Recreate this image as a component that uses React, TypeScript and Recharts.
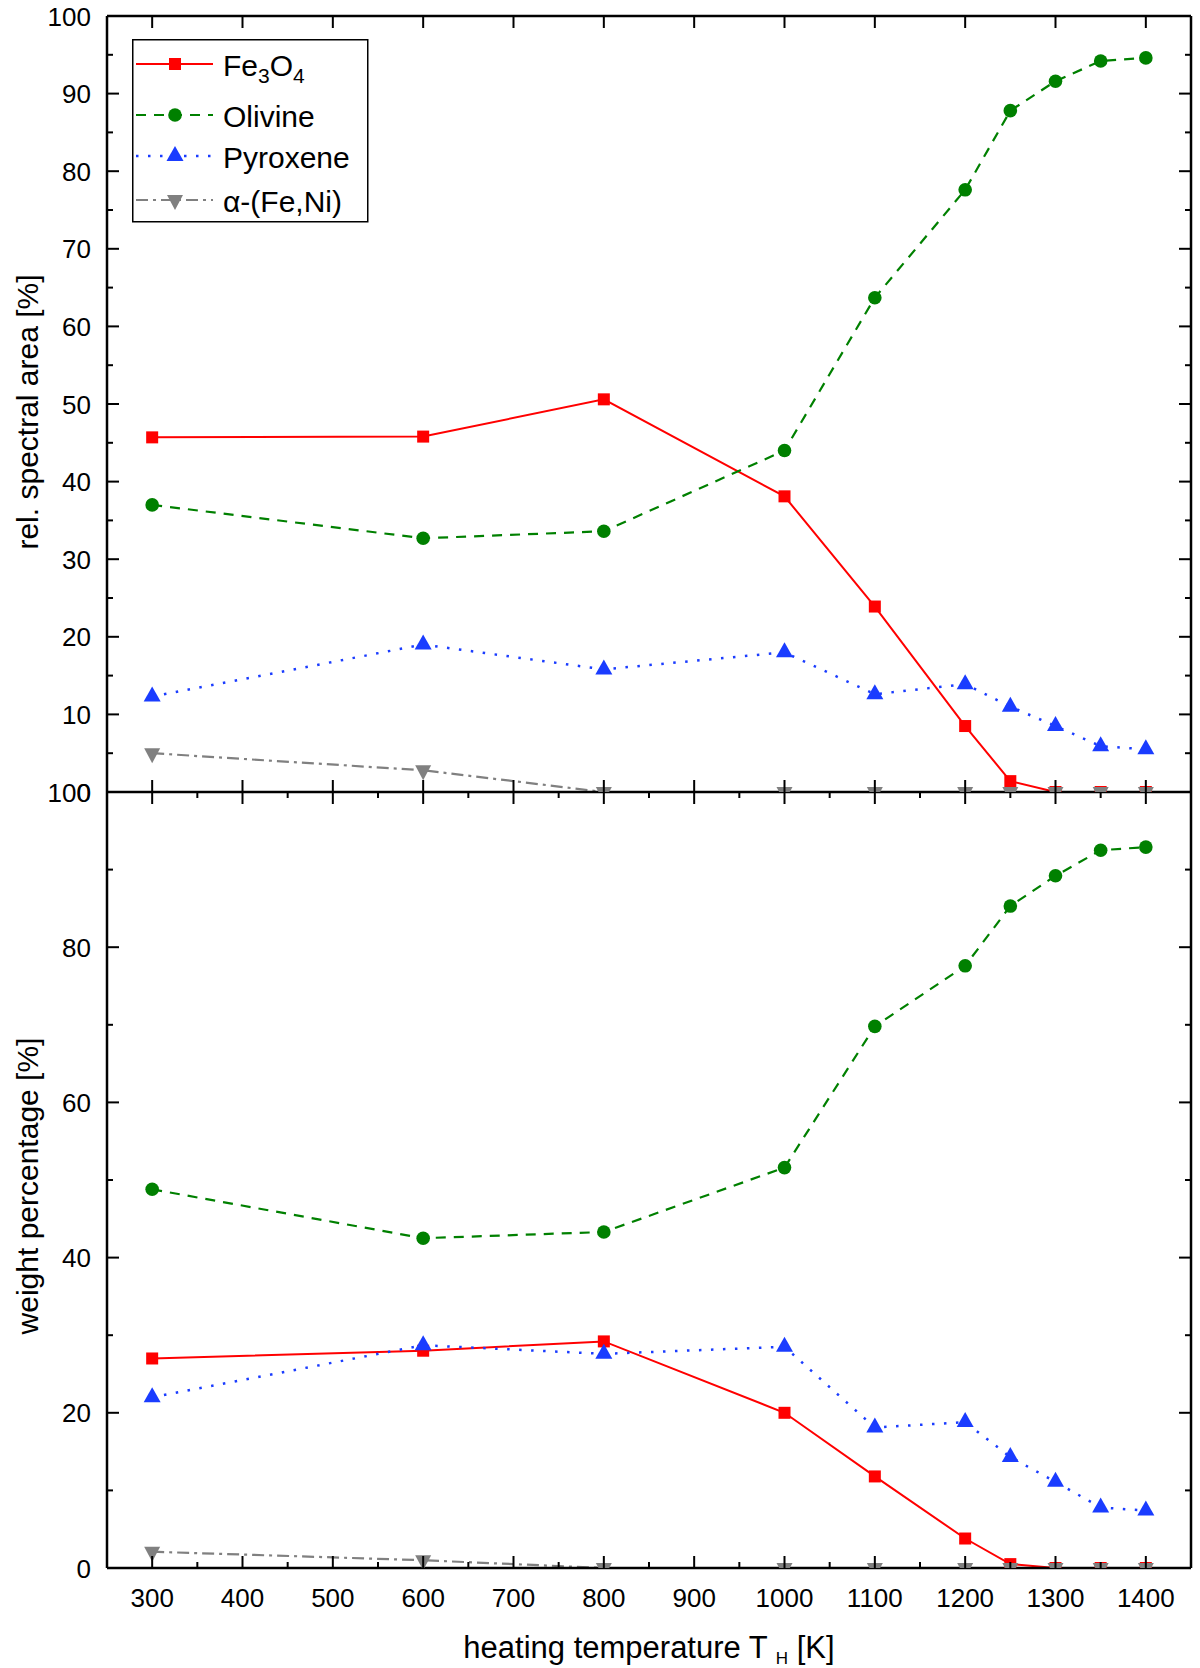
import React from 'react';
import { LineChart, Line, XAxis, YAxis, Legend } from 'recharts';

// ---------- data ----------
const temperatures = [300, 600, 800, 1000, 1100, 1200, 1250, 1300, 1350, 1400];

const areaFe3O4 = [45.7, 45.8, 50.6, 38.1, 23.9, 8.5, 1.4, 0, 0, 0];
const areaOlivine = [37.0, 32.7, 33.6, 44.0, 63.7, 77.6, 87.8, 91.6, 94.2, 94.6];
const areaPyroxene = [12.3, 19.0, 15.8, 18.0, 12.6, 13.9, 11.0, 8.5, 5.9, 5.5];
const areaFeNi = [5.0, 2.8, 0, 0, 0, 0, 0, 0, 0, 0];

const weightFe3O4 = [27.0, 28.0, 29.2, 20.0, 11.8, 3.8, 0.5, 0, 0, 0];
const weightOlivine = [48.8, 42.5, 43.3, 51.6, 69.8, 77.6, 85.3, 89.2, 92.5, 92.9];
const weightPyroxene = [22.0, 28.7, 27.6, 28.5, 18.1, 18.8, 14.3, 11.1, 7.8, 7.4];
const weightFeNi = [2.1, 1.0, 0, 0, 0, 0, 0, 0, 0, 0];

const xDomain = [250, 1450];
const xTickValues = [300, 350, 400, 450, 500, 550, 600, 650, 700, 750, 800, 850, 900, 950, 1000, 1050, 1100, 1150, 1200, 1250, 1300, 1350, 1400];
const xMajorValues = [300, 400, 500, 600, 700, 800, 900, 1000, 1100, 1200, 1300, 1400];

const areaTickValues = [0, 5, 10, 15, 20, 25, 30, 35, 40, 45, 50, 55, 60, 65, 70, 75, 80, 85, 90, 95, 100];
const areaMajorValues = [0, 10, 20, 30, 40, 50, 60, 70, 80, 90, 100];
const weightTickValues = [0, 10, 20, 30, 40, 50, 60, 70, 80, 90, 100];
const weightMajorValues = [0, 20, 40, 60, 80, 100];

const seriesKeys = ['fe3o4', 'olivine', 'pyroxene', 'feni'];
const seriesNames = ['Fe3O4', 'Olivine', 'Pyroxene', 'α-(Fe,Ni)'];
const seriesColors = ['#ff0000', '#008000', '#1a3cff', '#808080'];
const seriesDashes = [undefined, '10 8', '2.5 9.5', '12 5 3 5'];
const seriesWidths = [2, 2.2, 2.5, 2.2];
const seriesShapes = ['square', 'circle', 'triUp', 'triDown'];

const xTitle = 'heating temperature T';
const xTitleSub = 'H';
const xTitleUnit = '[K]';
const topTitle = 'rel. spectral area [%]';
const bottomTitle = 'weight percentage [%]';

const areaData = temperatures.map((t, i) => ({
  t,
  fe3o4: areaFe3O4[i],
  olivine: areaOlivine[i],
  pyroxene: areaPyroxene[i],
  feni: areaFeNi[i],
}));
const weightData = temperatures.map((t, i) => ({
  t,
  fe3o4: weightFe3O4[i],
  olivine: weightOlivine[i],
  pyroxene: weightPyroxene[i],
  feni: weightFeNi[i],
}));

// ---------- styling ----------
const FONT = '"Liberation Sans", Arial, Helvetica, sans-serif';
const AXIS_W = 2.5;
const TICK_W = 2;
const MAJOR_LEN = 12;
const MINOR_LEN = 6;
const TICK_FONT = 26;

function Marker({ shape, cx, cy, color }: any) {
  if (cx == null || cy == null || isNaN(cx) || isNaN(cy)) return null;
  if (shape === 'square') {
    return <rect x={cx - 6} y={cy - 6} width={12} height={12} fill={color} />;
  }
  if (shape === 'circle') {
    return <circle cx={cx} cy={cy} r={6.8} fill={color} />;
  }
  if (shape === 'triUp') {
    return <polygon points={`${cx},${cy - 10} ${cx - 8.5},${cy + 5} ${cx + 8.5},${cy + 5}`} fill={color} />;
  }
  return <polygon points={`${cx},${cy + 10} ${cx - 8},${cy - 5} ${cx + 8},${cy - 5}`} fill={color} />;
}

function makeDot(shape: string, color: string) {
  return (props: any) => (
    <Marker key={`d-${shape}-${props.index}`} shape={shape} cx={props.cx} cy={props.cy} color={color} />
  );
}

function makeTick(side: string, majors: number[], showLabels: boolean, showMinor: boolean) {
  return (props: any) => {
    const { x, y, payload } = props;
    const v = Number(payload && payload.value);
    const major = majors.indexOf(v) >= 0;
    if (!major && !showMinor) return <g />;
    const len = major ? MAJOR_LEN : MINOR_LEN;
    let x2 = x;
    let y2 = y;
    if (side === 'left') x2 = x + len;
    else if (side === 'right') x2 = x - len;
    else if (side === 'top') y2 = y + len;
    else y2 = y - len;
    let label = null;
    if (major && showLabels) {
      if (side === 'left') {
        label = (
          <text x={x - 16} y={y + 9.5} textAnchor="end" fontSize={TICK_FONT} fontFamily={FONT} fill="#000">
            {v}
          </text>
        );
      } else if (side === 'bottom') {
        label = (
          <text x={x} y={y + 39} textAnchor="middle" fontSize={TICK_FONT} fontFamily={FONT} fill="#000">
            {v}
          </text>
        );
      }
    }
    return (
      <g>
        <line x1={x} y1={y} x2={x2} y2={y2} stroke="#000" strokeWidth={TICK_W} />
        {label}
      </g>
    );
  };
}

const axisLine = { stroke: '#000', strokeWidth: AXIS_W };

const LEGEND_ROWS = [25, 76, 117, 161];

function SeriesLabel({ i, x, y }: any) {
  if (seriesKeys[i] === 'fe3o4') {
    return (
      <text x={x} y={y} fontSize={30} fontFamily={FONT} fill="#000">
        <tspan>Fe</tspan>
        <tspan fontSize={21} dy={7}>3</tspan>
        <tspan dy={-7}>O</tspan>
        <tspan fontSize={21} dy={7}>4</tspan>
      </text>
    );
  }
  return (
    <text x={x} y={y} fontSize={30} fontFamily={FONT} fill="#000">
      {seriesNames[i]}
    </text>
  );
}

function LegendBox() {
  return (
    <svg width={238} height={185} style={{ display: 'block' }}>
      <rect x={0.75} y={0.75} width={235} height={182} fill="#fff" stroke="#000" strokeWidth={1.5} />
      {seriesKeys.map((k, i) => {
        const ry = LEGEND_ROWS[i];
        return (
          <g key={k}>
            <line
              x1={4}
              x2={81}
              y1={ry}
              y2={ry}
              stroke={seriesColors[i]}
              strokeWidth={seriesWidths[i]}
              strokeDasharray={seriesDashes[i]}
            />
            <Marker shape={seriesShapes[i]} cx={43} cy={ry} color={seriesColors[i]} />
            <SeriesLabel i={i} x={91} y={ry + 12} />
          </g>
        );
      })}
    </svg>
  );
}

function renderLines() {
  return seriesKeys.map((k, i) => (
    <Line
      key={k}
      xAxisId="b"
      yAxisId="l"
      type="linear"
      dataKey={k}
      name={seriesNames[i]}
      stroke={seriesColors[i]}
      strokeWidth={seriesWidths[i]}
      strokeDasharray={seriesDashes[i]}
      dot={makeDot(seriesShapes[i], seriesColors[i])}
      activeDot={false}
      isAnimationActive={false}
    />
  ));
}

function Panel({ data, yTicks, yMajors, top, height, margin, topH, bottomH, showXLabels, topMinor, bottomMinor, topLine, legend }: any) {
  return (
    <div style={{ position: 'absolute', left: 0, top }}>
      <LineChart width={1200} height={height} data={data} margin={margin}>
        <XAxis
          xAxisId="b"
          dataKey="t"
          type="number"
          orientation="bottom"
          domain={xDomain}
          ticks={xTickValues}
          interval={0}
          height={bottomH}
          tickSize={0}
          tickMargin={0}
          tickLine={false}
          axisLine={axisLine}
          tick={makeTick('bottom', xMajorValues, showXLabels, bottomMinor)}
          allowDataOverflow
        />
        <XAxis
          xAxisId="t"
          dataKey="t"
          type="number"
          orientation="top"
          domain={xDomain}
          ticks={xTickValues}
          interval={0}
          height={topH}
          tickSize={0}
          tickMargin={0}
          tickLine={false}
          axisLine={topLine ? axisLine : false}
          tick={makeTick('top', xMajorValues, false, topMinor)}
          allowDataOverflow
        />
        <YAxis
          yAxisId="l"
          type="number"
          orientation="left"
          domain={[0, 100]}
          ticks={yTicks}
          interval={0}
          width={107}
          tickSize={0}
          tickMargin={0}
          tickLine={false}
          axisLine={axisLine}
          tick={makeTick('left', yMajors, true, true)}
          allowDataOverflow
        />
        <YAxis
          yAxisId="r"
          type="number"
          orientation="right"
          domain={[0, 100]}
          ticks={yTicks}
          interval={0}
          width={9}
          tickSize={0}
          tickMargin={0}
          tickLine={false}
          axisLine={axisLine}
          tick={makeTick('right', yMajors, false, true)}
          allowDataOverflow
        />
        {legend ? (
          <Legend
            layout="horizontal"
            verticalAlign="middle"
            align="center"
            wrapperStyle={{ left: 132, top: 39, width: 238, height: 185 }}
            content={() => <LegendBox />}
          />
        ) : null}
        {renderLines()}
      </LineChart>
    </div>
  );
}

export default function App() {
  return (
    <div
      style={{
        position: 'absolute',
        left: 0,
        top: 0,
        width: 1200,
        height: 1668,
        background: '#fff',
        fontFamily: FONT,
        overflow: 'hidden',
      }}
    >
      <Panel
        data={areaData}
        yTicks={areaTickValues}
        yMajors={areaMajorValues}
        top={0}
        height={800}
        margin={{ top: 6, right: 0, bottom: 0, left: 0 }}
        topH={10}
        bottomH={8}
        showXLabels={false}
        topMinor={false}
        bottomMinor={false}
        topLine
        legend
      />
      <Panel
        data={weightData}
        yTicks={weightTickValues}
        yMajors={weightMajorValues}
        top={776}
        height={892}
        margin={{ top: 6, right: 0, bottom: 40, left: 0 }}
        topH={10}
        bottomH={60}
        showXLabels
        topMinor
        bottomMinor
        topLine={false}
        legend={false}
      />
      <svg
        width={1200}
        height={1668}
        style={{ position: 'absolute', left: 0, top: 0, pointerEvents: 'none' }}
      >
        <text
          x={38}
          y={412}
          transform="rotate(-90 38 412)"
          textAnchor="middle"
          fontSize={30}
          fontFamily={FONT}
          fill="#000"
        >
          {topTitle}
        </text>
        <text
          x={38}
          y={1186}
          transform="rotate(-90 38 1186)"
          textAnchor="middle"
          fontSize={30}
          fontFamily={FONT}
          fill="#000"
        >
          {bottomTitle}
        </text>
        <text x={649} y={1658} textAnchor="middle" fontSize={31} fontFamily={FONT} fill="#000">
          <tspan>{xTitle} </tspan>
          <tspan fontSize={17} dy={6}>{xTitleSub}</tspan>
          <tspan dy={-6}> {xTitleUnit}</tspan>
        </text>
      </svg>
    </div>
  );
}
